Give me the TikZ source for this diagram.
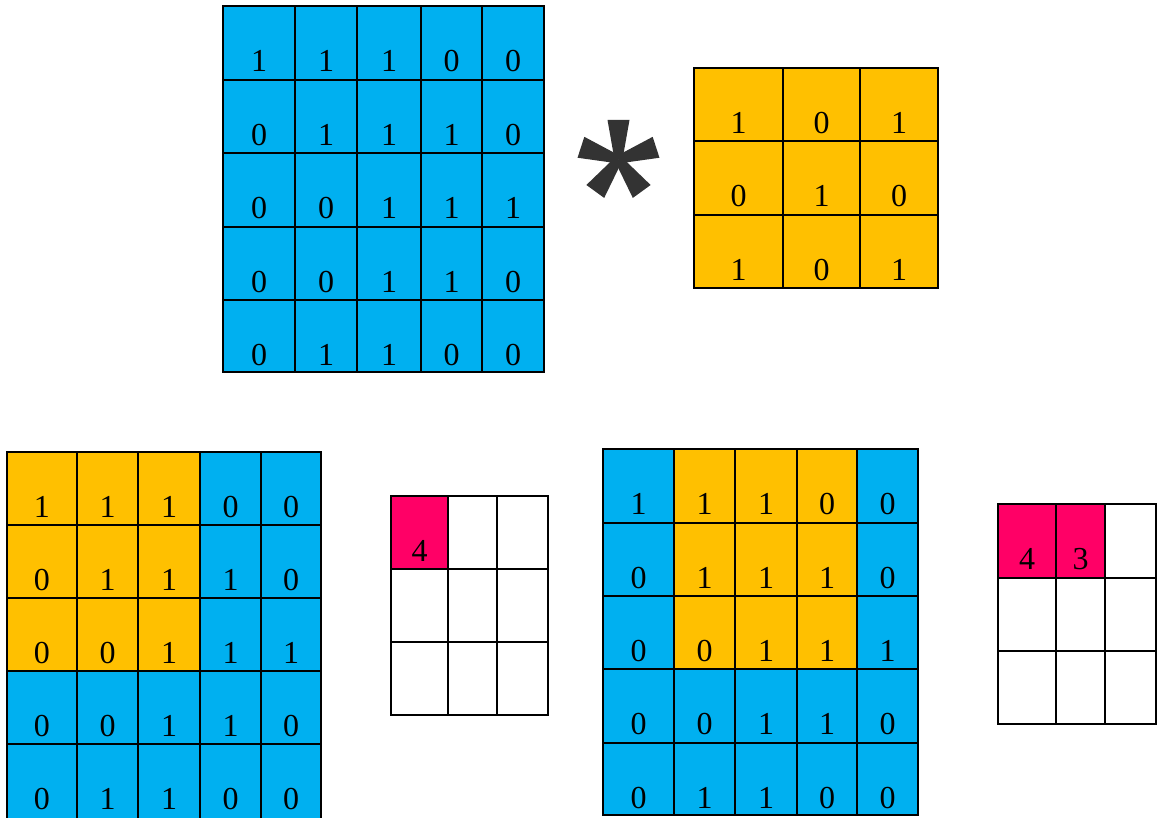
\documentclass[tikz,border=0pt]{standalone}
\usepackage{fontspec}
\setmainfont{Liberation Serif}
\definecolor{cb}{HTML}{00B0F0}
\definecolor{co}{HTML}{FFC000}
\definecolor{cp}{HTML}{FF0066}
\definecolor{cw}{HTML}{FFFFFF}
\definecolor{ast}{HTML}{333333}
\def\nomark{n}
\tikzset{
  cell/.style={draw=black, line width=2pt, inner sep=0pt, outer sep=0pt, rectangle},
  digit/.style={font=\fontsize{32}{38}\selectfont, inner sep=0pt, text=black, anchor=base},
  astarm/.style={fill=ast}
}
% #1 name, #2 columns, #3 x bounds, #4 y bounds, #5 cells value/colour (row-major)
\newcommand\mkgrid[5]{%
  \foreach \v/\f [count=\i from 0] in {#5}{%
    \pgfmathtruncatemacro\r{div(\i,#2)}%
    \pgfmathtruncatemacro\c{mod(\i,#2)}%
    \pgfmathsetmacro\xa{{#3}[\c]}%
    \pgfmathsetmacro\xb{{#3}[\c+1]}%
    \pgfmathsetmacro\ya{{#4}[\r]}%
    \pgfmathsetmacro\yb{{#4}[\r+1]}%
    \pgfmathsetmacro\w{\xb-\xa}%
    \pgfmathsetmacro\h{\yb-\ya}%
    \pgfmathsetmacro\xc{(\xa+\xb)/2}%
    \pgfmathsetmacro\yc{-(\ya+\yb)/2}%
    \node[cell, fill=\f, minimum width=\w pt, minimum height=\h pt] (#1-\i) at (\xc,\yc) {};
    \ifx\v\nomark\else
      \node[digit] (#1-t\i) at ([yshift=-65.5pt]#1-\i.north) {\v};
    \fi
  }%
}
\begin{document}
\begin{tikzpicture}[x=1pt,y=1pt]
\useasboundingbox (0,0) rectangle (1157,-818);
% input image
\mkgrid{I}{5}{223,295,357,421,482,544}{6,80,153,227,300,372}{%
1/cb,1/cb,1/cb,0/cb,0/cb,
0/cb,1/cb,1/cb,1/cb,0/cb,
0/cb,0/cb,1/cb,1/cb,1/cb,
0/cb,0/cb,1/cb,1/cb,0/cb,
0/cb,1/cb,1/cb,0/cb,0/cb}
% kernel
\mkgrid{K}{3}{694,783,860,938}{68,141,215,288}{%
1/co,0/co,1/co,
0/co,1/co,0/co,
1/co,0/co,1/co}
% asterisk
\coordinate (astc) at (618.5,-159.5);
\foreach \a in {0,72,144,216,288}
  \fill[astarm, shift={(astc)}, rotate=\a] (-4,0) -- (-11,39.5) -- (11,39.5) -- (4,0) -- cycle;
% step 1
\mkgrid{A}{5}{7,77,138,200,261,321}{452,525,598,671,744,821}{%
1/co,1/co,1/co,0/cb,0/cb,
0/co,1/co,1/co,1/cb,0/cb,
0/co,0/co,1/co,1/cb,1/cb,
0/cb,0/cb,1/cb,1/cb,0/cb,
0/cb,1/cb,1/cb,0/cb,0/cb}
\mkgrid{P}{3}{391,448,497,548}{496,569,642,715}{%
4/cp,n/cw,n/cw,
n/cw,n/cw,n/cw,
n/cw,n/cw,n/cw}
% step 2
\mkgrid{B}{5}{603,674,735,797,857,918}{449,523,596,669,743,815}{%
1/cb,1/co,1/co,0/co,0/cb,
0/cb,1/co,1/co,1/co,0/cb,
0/cb,0/co,1/co,1/co,1/cb,
0/cb,0/cb,1/cb,1/cb,0/cb,
0/cb,1/cb,1/cb,0/cb,0/cb}
\mkgrid{Q}{3}{998,1056,1105,1156}{504,578,651,724}{%
4/cp,3/cp,n/cw,
n/cw,n/cw,n/cw,
n/cw,n/cw,n/cw}
\end{tikzpicture}
\end{document}
